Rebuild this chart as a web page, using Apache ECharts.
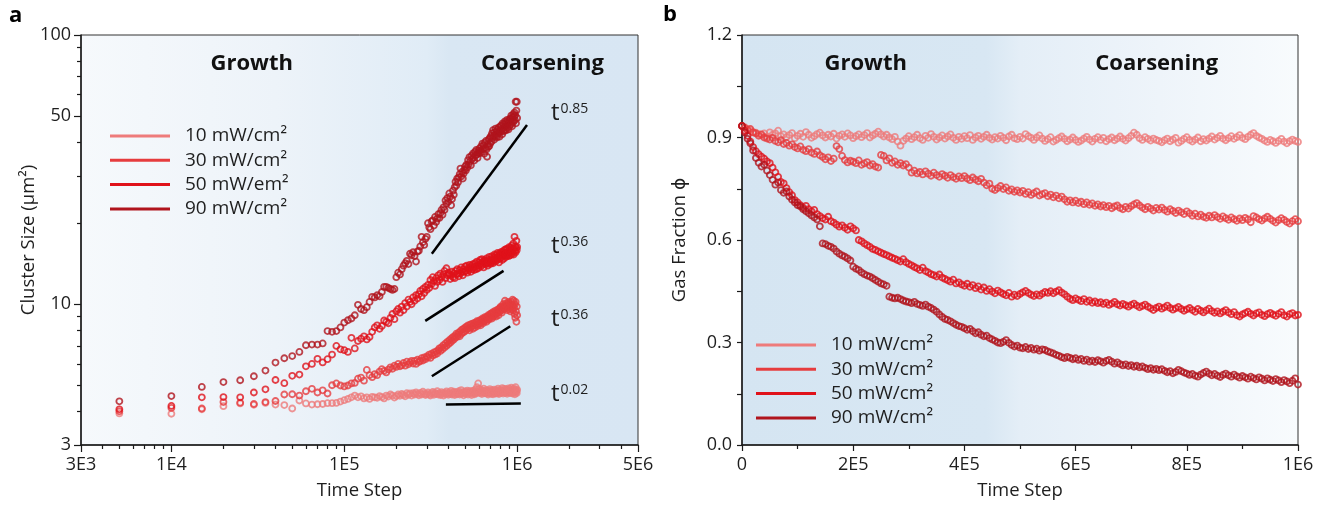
<!DOCTYPE html>
<html>
<head>
<meta charset="utf-8">
<script src="https://cdn.jsdelivr.net/npm/echarts@6/dist/echarts.min.js"></script>
<style>
  html, body { margin: 0; padding: 0; background: #fff; }
  #chart { width: 1327px; height: 505px; }
</style>
</head>
<body>
<div id="chart"></div>
<script>
// ---- sampling ----
const STEP = 5000;                       // time steps between saved frames

// ---- series names & colours ----
const namesA = ['10 mW/cm²', '30 mW/cm²', '50 mW/em²', '90 mW/cm²'];
const namesB = ['10 mW/cm²', '30 mW/cm²', '50 mW/cm²', '90 mW/cm²'];
const colors = ['#ee7b7b', '#e63c3e', '#e0121a', '#b0141d'];

// ---- (a) cluster size, µm², at t = 5E3 ... 1E6 ----
const size10 = [
  3.93, 3.92, 4.07, 4.18, 4.28, 4.23, 4.30, 4.24, 4.22, 4.10, 4.39, 4.28, 4.24, 4.25, 4.26, 4.29,
  4.29, 4.30, 4.35, 4.40,
  4.45, 4.51, 4.58, 4.51, 4.55, 4.47, 4.51, 4.45, 4.53, 4.51,
  4.49, 4.56, 4.52, 4.47, 4.58, 4.54, 4.62, 4.58, 4.50, 4.56,
  4.62, 4.57, 4.64, 4.60, 4.55, 4.67, 4.61, 4.66, 4.58, 4.67,
  4.62, 4.70, 4.64, 4.59, 4.68, 4.62, 4.73, 4.65, 4.60, 4.64,
  4.70, 4.62, 4.58, 4.66, 4.72, 4.61, 4.68, 4.64, 4.75, 4.62,
  4.67, 4.60, 4.71, 4.65, 4.58, 4.69, 4.63, 4.74, 4.66, 4.61,
  4.70, 4.64, 4.77, 4.62, 4.68, 4.73, 4.60, 4.66, 4.71, 4.63,
  4.69, 4.75, 4.62, 4.67, 4.80, 4.65, 4.71, 4.59, 4.68, 4.74,
  4.64, 4.70, 4.78, 4.62, 4.69, 4.75, 4.66, 4.72, 4.60, 4.77,
  4.68, 4.74, 4.63, 4.81, 4.70, 4.66, 4.92, 4.72, 5.08, 4.85,
  4.76, 4.68, 4.82, 4.71, 4.64, 4.78, 4.70, 4.86, 4.73, 4.67,
  4.75, 4.69, 4.80, 4.66, 4.73, 4.62, 4.77, 4.70, 4.84, 4.68,
  4.74, 4.65, 4.79, 4.71, 4.63, 4.76, 4.82, 4.69, 4.74, 4.66,
  4.72, 4.80, 4.67, 4.75, 4.86, 4.70, 4.64, 4.78, 4.73, 4.81,
  4.68, 4.76, 4.71, 4.88, 4.74, 4.66, 4.79, 4.72, 4.85, 4.70,
  4.77, 4.69, 4.83, 4.74, 4.65, 4.80, 4.73, 4.87, 4.70, 4.78,
  4.72, 4.84, 4.68, 4.76, 4.90, 4.71, 4.79, 4.66, 4.82, 4.75,
  4.70, 4.86, 4.74, 4.63, 4.80, 4.92, 4.72, 4.78, 4.68, 4.81
];
const size30 = [
  4.00, 4.12, 4.10, 4.33, 4.31, 4.26, 4.33, 4.37, 4.62, 4.63, 4.58, 4.75, 4.85, 4.70, 4.79, 4.66,
  5.00, 5.08, 4.99, 4.95,
  4.99, 5.08, 5.10, 5.29, 5.34, 5.20, 5.70, 5.45, 5.36, 5.50,
  5.45, 5.62, 5.74, 5.66, 5.58, 5.72, 5.83, 5.76, 5.91, 5.85,
  6.00, 5.88, 5.93, 6.05, 5.91, 6.12, 5.98, 6.08, 6.16, 6.02,
  6.16, 6.00, 6.22, 6.10, 6.16, 6.30, 6.18, 6.35, 6.25, 6.40,
  6.35, 6.50, 6.32, 6.55, 6.45, 6.62, 6.50, 6.68, 6.56, 6.75,
  6.86, 6.70, 6.92, 6.80, 7.05, 6.90, 7.15, 7.00, 7.25, 7.10,
  7.35, 7.20, 7.45, 7.30, 7.55, 7.40, 7.62, 7.50, 7.77, 7.58,
  7.70, 7.85, 7.60, 7.95, 7.75, 8.05, 7.85, 8.10, 7.90, 8.20,
  8.00, 8.25, 8.10, 8.35, 8.15, 8.00, 8.40, 8.20, 8.45, 8.30,
  8.10, 8.50, 8.35, 8.20, 8.55, 8.40, 8.65, 8.30, 8.60, 8.45,
  8.70, 8.50, 8.35, 8.75, 8.60, 8.85, 8.50, 8.80, 8.65, 8.95,
  8.70, 8.90, 8.60, 9.00, 8.80, 9.10, 8.75, 9.05, 8.90, 9.20,
  8.95, 9.25, 8.85, 9.15, 9.35, 9.00, 9.30, 9.10, 9.45, 9.20,
  9.00, 9.40, 9.25, 9.55, 9.30, 9.10, 9.60, 9.35, 9.70, 9.45,
  9.80, 9.50, 9.30, 9.75, 9.60, 10.0, 9.55, 9.85, 9.70, 10.3,
  9.65, 9.90, 10.1, 9.75, 9.50, 10.0, 9.80, 10.2, 9.60, 9.90,
  10.1, 9.70, 9.40, 9.95, 10.2, 9.60, 9.85, 10.4, 9.50, 9.90,
  10.3, 9.70, 9.20, 10.0, 8.90, 10.2, 9.40, 8.60, 9.80, 9.10
];
const size50 = [
  4.07, 4.19, 4.51, 4.52, 4.51, 4.70, 4.83, 5.23, 5.09, 5.42, 5.48, 5.88, 6.00, 6.27, 6.08, 6.25,
  6.50, 7.00, 6.80, 6.75,
  6.65, 7.50, 6.85, 7.30, 7.45, 7.60, 7.40, 7.55, 7.90, 8.20,
  8.35, 8.10, 8.30, 8.70, 8.60, 8.50, 8.90, 9.20, 8.80, 9.40,
  9.60, 9.30, 9.80, 9.50, 10.1, 9.80, 10.4, 10.2, 10.0, 10.6,
  10.3, 10.8, 10.5, 10.9, 11.2, 10.7, 11.4, 11.0, 11.6, 11.3,
  11.8, 11.5, 12.3, 11.9, 12.6, 12.2, 11.7, 12.5, 12.1, 12.8,
  12.3, 13.0, 12.6, 12.1, 12.9, 13.3, 12.5, 13.6, 12.8, 13.1,
  12.9, 12.4, 12.8, 13.2, 12.6, 13.0, 12.5, 13.3, 12.9, 13.5,
  13.0, 12.7, 13.4, 13.0, 13.7, 13.2, 12.8, 13.5, 13.2, 13.8,
  13.3, 13.9, 13.1, 13.6, 13.4, 14.0, 13.7, 13.2, 13.9, 13.5,
  14.1, 13.7, 13.4, 14.2, 13.8, 13.5, 14.4, 13.9, 13.6, 14.3,
  14.0, 14.6, 13.8, 14.2, 14.7, 14.0, 14.4, 13.7, 14.6, 14.2,
  14.5, 14.1, 14.8, 14.3, 13.9, 14.6, 14.2, 15.0, 14.4, 14.1,
  14.7, 14.3, 15.1, 14.5, 14.2, 14.9, 14.6, 15.3, 14.4, 14.8,
  15.2, 14.5, 14.9, 15.5, 14.7, 15.1, 14.3, 15.4, 14.8, 15.2,
  15.6, 14.9, 15.3, 14.6, 15.7, 15.1, 15.5, 14.8, 15.9, 15.2,
  15.4, 16.0, 15.0, 15.6, 15.2, 16.1, 15.3, 15.7, 15.1, 16.3,
  15.5, 15.9, 15.2, 16.2, 15.6, 16.5, 15.4, 16.0, 15.7, 16.8,
  15.3, 16.1, 17.8, 15.8, 16.4, 15.6, 16.2, 17.2, 15.9, 16.3
];
const size90 = [
  4.36, 4.56, 4.93, 5.14, 5.22, 5.40, 5.67, 6.07, 6.30, 6.42, 6.65, 7.04, 7.08, 7.08, 7.15, 7.95,
  7.90, 7.95, 8.20, 8.55,
  8.72, 8.85, 9.10, 9.95, 9.60, 9.50, 9.75, 10.2, 10.65, 10.6,
  10.8, 10.7, 11.1, 11.6, 11.6, 11.5, 11.4, 11.3, 11.4, 12.6,
  13.1, 12.9, 13.5, 13.9, 14.2, 14.5, 14.1, 15.4, 15.2, 15.6,
  15.1, 14.4, 15.7, 15.8, 16.4, 17.8, 17.0, 16.6, 17.5, 17.8,
  20.0, 19.3, 19.0, 20.3, 20.5, 19.6, 21.1, 20.2, 20.8, 21.6,
  20.9, 21.8, 22.4, 21.5, 22.9, 22.4, 24.3, 23.6, 24.8, 24.0,
  25.8, 25.1, 23.3, 24.6, 26.4, 25.5, 27.2, 28.5, 27.6, 29.3,
  28.4, 29.6, 30.4, 31.9, 29.8, 31.0, 29.3, 30.6, 31.6, 32.5,
  31.4, 33.0, 32.2, 34.3, 33.1, 35.2, 34.0, 32.8, 35.6, 34.6,
  36.3, 35.1, 34.2, 36.8, 35.7, 37.4, 36.0, 34.9, 36.5, 37.2,
  37.9, 36.4, 37.3, 38.6, 36.8, 39.5, 37.7, 38.9, 36.2, 39.8,
  38.1, 40.4, 37.6, 35.3, 39.2, 38.4, 40.9, 38.7, 41.5, 39.6,
  42.1, 40.2, 43.1, 41.4, 44.3, 42.0, 40.8, 43.6, 42.5, 44.9,
  42.0, 43.8, 41.6, 44.5, 42.9, 45.3, 43.4, 41.9, 44.1, 45.8,
  43.7, 46.2, 44.6, 42.8, 47.0, 45.1, 43.9, 46.6, 44.3, 47.8,
  45.9, 44.2, 47.3, 46.0, 48.4, 45.2, 46.9, 44.6, 48.1, 45.7,
  47.5, 49.0, 46.3, 48.6, 50.2, 47.1, 45.8, 49.4, 48.0, 50.8,
  47.6, 49.7, 51.5, 48.3, 50.3, 56.5, 47.0, 52.4, 56.5, 49.2
];

// power-law guide lines in (a): end points [t0, t1], [s0, s1], exponent label
const fitT = [[3.21e5, 1.14e6], [2.94e5, 8.34e5], [3.21e5, 9.12e5], [3.87e5, 1.05e6]];
const fitS = [[15.4, 46.3], [8.67, 13.3], [5.40, 8.28], [4.24, 4.28]];
const fitExp = ['0.85', '0.36', '0.36', '0.02'];

// ---- (b) gas fraction at t = 0 ... 1E6 ----
const gas10 = [
  0.934, 0.930, 0.925, 0.921, 0.916, 0.914, 0.910, 0.906, 0.912, 0.903,
  0.915, 0.908, 0.912, 0.920, 0.904, 0.909, 0.901, 0.907, 0.913, 0.898,
  0.905, 0.911, 0.902, 0.916, 0.908, 0.899, 0.904, 0.910, 0.914, 0.906,
  0.900, 0.908, 0.903, 0.911, 0.897, 0.905, 0.909, 0.902, 0.912, 0.906,
  0.898, 0.904, 0.909, 0.901, 0.907, 0.913, 0.900, 0.906, 0.911, 0.917,
  0.909, 0.903, 0.908, 0.900, 0.895, 0.902, 0.888, 0.876, 0.890, 0.897,
  0.904, 0.895, 0.901, 0.908, 0.898, 0.893, 0.905, 0.899, 0.910, 0.902,
  0.894, 0.900, 0.906, 0.897, 0.903, 0.909, 0.899, 0.893, 0.902, 0.896,
  0.904, 0.898, 0.907, 0.893, 0.900, 0.905, 0.896, 0.902, 0.908, 0.899,
  0.894, 0.901, 0.897, 0.905, 0.899, 0.892, 0.903, 0.908, 0.898, 0.895,
  0.902, 0.897, 0.910, 0.904, 0.899, 0.893, 0.900, 0.906, 0.897, 0.890,
  0.895, 0.901, 0.888, 0.893, 0.898, 0.903, 0.896, 0.889, 0.894, 0.900,
  0.893, 0.887, 0.891, 0.897, 0.902, 0.894, 0.888, 0.896, 0.901, 0.893,
  0.899, 0.889, 0.895, 0.900, 0.892, 0.897, 0.903, 0.896, 0.891, 0.898,
  0.905, 0.914, 0.908, 0.898, 0.893, 0.901, 0.896, 0.891, 0.897, 0.893,
  0.890, 0.886, 0.892, 0.897, 0.889, 0.894, 0.899, 0.885, 0.890, 0.896,
  0.901, 0.893, 0.888, 0.894, 0.900, 0.889, 0.895, 0.891, 0.897, 0.903,
  0.894, 0.899, 0.905, 0.897, 0.892, 0.898, 0.904, 0.896, 0.901, 0.907,
  0.899, 0.895, 0.902, 0.908, 0.913, 0.905, 0.900, 0.896, 0.891, 0.887,
  0.893, 0.889, 0.884, 0.890, 0.896, 0.888, 0.883, 0.889, 0.894, 0.890,
  0.887
];
const gas30 = [
  0.934, 0.928, 0.922, 0.925, 0.915, 0.912, 0.905, 0.909, 0.900, 0.897,
  0.894, 0.899, 0.890, 0.886, 0.892, 0.881, 0.884, 0.876, 0.880, 0.872,
  0.868, 0.874, 0.864, 0.860, 0.866, 0.856, 0.852, 0.859, 0.848, 0.843,
  0.836, 0.842, 0.831, 0.838, 0.875, 0.866, 0.846, 0.834, 0.827, 0.832,
  0.829, 0.825, 0.833, 0.820, 0.824, 0.828, 0.818, 0.822, 0.815, 0.812,
  0.849, 0.846, 0.833, 0.839, 0.826, 0.830, 0.820, 0.825, 0.818, 0.822,
  0.812, 0.797, 0.803, 0.795, 0.799, 0.792, 0.801, 0.794, 0.788, 0.797,
  0.790, 0.785, 0.793, 0.788, 0.782, 0.790, 0.784, 0.779, 0.786, 0.781,
  0.787, 0.780, 0.775, 0.783, 0.777, 0.772, 0.779, 0.768, 0.760, 0.765,
  0.750, 0.746, 0.752, 0.758, 0.749, 0.754, 0.744, 0.748, 0.741, 0.745,
  0.739, 0.744, 0.735, 0.740, 0.732, 0.737, 0.742, 0.730, 0.734, 0.737,
  0.728, 0.733, 0.725, 0.730, 0.722, 0.727, 0.719, 0.712, 0.716, 0.710,
  0.715, 0.708, 0.712, 0.705, 0.710, 0.703, 0.707, 0.700, 0.704, 0.698,
  0.702, 0.696, 0.700, 0.693, 0.698, 0.701, 0.694, 0.690, 0.697, 0.692,
  0.699, 0.704, 0.708, 0.701, 0.695, 0.690, 0.697, 0.692, 0.686, 0.694,
  0.689, 0.695, 0.688, 0.683, 0.690, 0.685, 0.679, 0.686, 0.681, 0.676,
  0.684, 0.678, 0.671, 0.677, 0.669, 0.674, 0.668, 0.665, 0.671, 0.666,
  0.673, 0.667, 0.662, 0.669, 0.664, 0.659, 0.666, 0.661, 0.656, 0.663,
  0.658, 0.665, 0.660, 0.652, 0.670, 0.666, 0.661, 0.657, 0.663, 0.668,
  0.662, 0.656, 0.651, 0.658, 0.664, 0.659, 0.653, 0.648, 0.655, 0.661,
  0.655
];
const gas50 = [
  0.934, 0.920, 0.905, 0.888, 0.872, 0.860, 0.851, 0.844, 0.838, 0.830,
  0.825, 0.812, 0.798, 0.785, 0.770, 0.766, 0.752, 0.740, 0.731, 0.717,
  0.710, 0.702, 0.695, 0.700, 0.690, 0.684, 0.688, 0.676, 0.670, 0.664,
  0.660, 0.668, 0.655, 0.651, 0.645, 0.639, 0.643, 0.636, 0.630, 0.640,
  0.634, 0.628, 0.600, 0.596, 0.590, 0.585, 0.580, 0.574, 0.571, 0.567,
  0.563, 0.559, 0.556, 0.552, 0.548, 0.545, 0.541, 0.537, 0.544, 0.535,
  0.530, 0.526, 0.521, 0.517, 0.512, 0.519, 0.509, 0.505, 0.500, 0.497,
  0.493, 0.499, 0.490, 0.486, 0.482, 0.478, 0.484, 0.473, 0.476, 0.470,
  0.466, 0.472, 0.463, 0.468, 0.459, 0.464, 0.455, 0.461, 0.451, 0.456,
  0.449, 0.444, 0.452, 0.447, 0.442, 0.438, 0.445, 0.434, 0.440, 0.436,
  0.442, 0.447, 0.451, 0.445, 0.440, 0.436, 0.441, 0.437, 0.443, 0.448,
  0.445, 0.450, 0.444, 0.449, 0.453, 0.446, 0.441, 0.434, 0.428, 0.424,
  0.429, 0.425, 0.421, 0.427, 0.419, 0.423, 0.416, 0.420, 0.415, 0.418,
  0.413, 0.417, 0.410, 0.414, 0.419, 0.412, 0.408, 0.413, 0.409, 0.405,
  0.410, 0.414, 0.408, 0.403, 0.407, 0.411, 0.405, 0.400, 0.395, 0.401,
  0.405, 0.399, 0.403, 0.408, 0.401, 0.396, 0.400, 0.404, 0.398, 0.393,
  0.397, 0.401, 0.395, 0.390, 0.398, 0.393, 0.388, 0.394, 0.399, 0.392,
  0.387, 0.391, 0.385, 0.390, 0.395, 0.388, 0.383, 0.389, 0.380, 0.376,
  0.382, 0.386, 0.390, 0.384, 0.379, 0.385, 0.388, 0.381, 0.377, 0.383,
  0.387, 0.382, 0.378, 0.384, 0.389, 0.380, 0.376, 0.383, 0.386, 0.379,
  0.381
];
const gas90 = [
  0.934, 0.915, 0.896, 0.883, 0.862, 0.840, 0.826, 0.815, 0.820, 0.803,
  0.790, 0.776, 0.762, 0.768, 0.746, 0.738, 0.742, 0.727, 0.718, 0.710,
  0.702, 0.698, 0.690, 0.684, 0.678, 0.672, 0.666, 0.660, 0.640, 0.590,
  0.588, 0.583, 0.580, 0.575, 0.566, 0.560, 0.555, 0.551, 0.546, 0.540,
  0.522, 0.516, 0.512, 0.505, 0.500, 0.496, 0.493, 0.488, 0.483, 0.478,
  0.473, 0.470, 0.466, 0.434, 0.431, 0.429, 0.431, 0.427, 0.423, 0.420,
  0.418, 0.415, 0.419, 0.413, 0.410, 0.407, 0.411, 0.405, 0.401, 0.396,
  0.390, 0.382, 0.375, 0.369, 0.366, 0.362, 0.357, 0.352, 0.348, 0.346,
  0.342, 0.337, 0.340, 0.333, 0.327, 0.330, 0.323, 0.318, 0.320, 0.313,
  0.309, 0.305, 0.300, 0.298, 0.302, 0.307, 0.299, 0.293, 0.288, 0.291,
  0.285, 0.283, 0.287, 0.281, 0.284, 0.279, 0.282, 0.276, 0.280, 0.278,
  0.274, 0.271, 0.268, 0.264, 0.261, 0.257, 0.254, 0.258, 0.255, 0.251,
  0.254, 0.249, 0.252, 0.246, 0.250, 0.244, 0.247, 0.243, 0.248, 0.245,
  0.241, 0.246, 0.249, 0.244, 0.238, 0.242, 0.237, 0.233, 0.236, 0.231,
  0.234, 0.229, 0.232, 0.227, 0.230, 0.226, 0.222, 0.225, 0.220, 0.223,
  0.219, 0.222, 0.217, 0.213, 0.216, 0.210, 0.214, 0.220, 0.216, 0.212,
  0.209, 0.205, 0.208, 0.203, 0.200, 0.206, 0.211, 0.215, 0.209, 0.204,
  0.208, 0.203, 0.199, 0.205, 0.209, 0.204, 0.200, 0.206, 0.201, 0.197,
  0.202, 0.198, 0.194, 0.200, 0.196, 0.192, 0.198, 0.194, 0.189, 0.195,
  0.191, 0.187, 0.193, 0.189, 0.184, 0.190, 0.186, 0.181, 0.188, 0.195,
  0.177
];

// ---- axis tick labels ----
const xTicksA = [3e3, 1e4, 1e5, 1e6, 5e6];
const xLabelsA = ['3E3', '1E4', '1E5', '1E6', '5E6'];
const xMinorA = [4e3, 5e3, 6e3, 7e3, 8e3, 9e3, 2e4, 3e4, 4e4, 5e4, 6e4, 7e4, 8e4, 9e4,
                 2e5, 3e5, 4e5, 5e5, 6e5, 7e5, 8e5, 9e5, 2e6, 3e6, 4e6];
const yTicksA = [3, 10, 50, 100];
const yLabelsA = ['3', '10', '50', '100'];
const yMinorA = [4, 5, 6, 7, 8, 9, 20, 30, 40, 60, 70, 80, 90];

const FONT = '"Open Sans", "DejaVu Sans", sans-serif';
const INK = '#1e1e1e';

const sizeA = [size10, size30, size50, size90];
const gasB = [gas10, gas30, gas50, gas90];
const timesA = size10.map((_, i) => (i + 1) * STEP);
const timesB = gas10.map((_, i) => i * STEP);

const chart = echarts.init(document.getElementById('chart'), null, { renderer: 'canvas' });

function labelFrom(values, labels) {
  return v => {
    for (let i = 0; i < values.length; i++) {
      if (Math.abs(Math.log10(values[i]) - v) < 1e-6) return labels[i];
    }
    return '';
  };
}

const lg = v => Math.log10(v);
const axisLineStyle = { color: '#1a1a1a', width: 1.5 };
const tickLineStyle = { color: '#1a1a1a', width: 1.2 };
const tickLabelStyle = { color: INK, fontSize: 18, fontFamily: FONT };
const nameStyle = { color: INK, fontSize: 18.5, fontFamily: FONT };

const gridA = { left: 81, top: 35, width: 557, height: 410 };
const gridB = { left: 742, top: 35, width: 556, height: 410 };

const MARK = { symbol: 'circle', symbolSize: 6, silent: true };

const series = [];
namesA.forEach((name, i) => {
  series.push(Object.assign({
    type: 'scatter', name, xAxisIndex: 0, yAxisIndex: 0,
    data: timesA.map((t, j) => [t, sizeA[i][j]]),
    itemStyle: { color: 'rgba(0,0,0,0)', borderColor: colors[i], borderWidth: 1.8 },
    z: 3 + i
  }, MARK));
});
fitT.forEach((tt, i) => {
  series.push({
    type: 'line', name: 'fit' + i, xAxisIndex: 0, yAxisIndex: 0,
    data: [[tt[0], fitS[i][0]], [tt[1], fitS[i][1]]],
    symbol: 'none', silent: true,
    lineStyle: { color: '#000', width: 2.5 }, z: 10
  });
});
namesB.forEach((name, i) => {
  series.push(Object.assign({
    type: 'scatter', name, xAxisIndex: 3, yAxisIndex: 3,
    data: timesB.map((t, j) => [t, gasB[i][j]]),
    itemStyle: { color: 'rgba(0,0,0,0)', borderColor: colors[i], borderWidth: 1.8 },
    z: 3 + i
  }, MARK));
});

const legendCommon = {
  orient: 'vertical', icon: 'rect', itemWidth: 60, itemHeight: 3, itemGap: 2.3,
  padding: 0, selectedMode: false,
  textStyle: { color: INK, fontSize: 19, lineHeight: 22, fontFamily: FONT, padding: [0, 0, 0, 10] }
};

// exponent annotations next to the guide lines
const expY = [115, 248, 321, 396];
const expText = fitExp.map((e, i) => ({
  type: 'text', left: 551, top: expY[i] - 14,
  style: {
    text: '{t|t}{s|' + e + '}',
    rich: {
      t: { fontSize: 24, fontFamily: FONT, fill: INK, lineHeight: 28 },
      s: { fontSize: 14, fontFamily: FONT, fill: INK, verticalAlign: 'top', padding: [3, 0, 0, 1] }
    }
  }
}));

function phaseText(text, cx) {
  return {
    type: 'text', x: cx, y: 63.5,
    style: { text, fontSize: 22, fontWeight: 'bold', fontFamily: FONT, fill: '#111', align: 'center', verticalAlign: 'middle' }
  };
}

const option = {
  animation: false,
  backgroundColor: '#fff',
  grid: [
    Object.assign({
      show: true, borderColor: '#333', borderWidth: 1,
      backgroundColor: new echarts.graphic.LinearGradient(0, 0, 1, 0, [
        { offset: 0, color: '#f6f9fc' },
        { offset: 0.35, color: '#edf3f9' },
        { offset: 0.62, color: '#e0ecf6' },
        { offset: 0.66, color: '#d9e7f3' },
        { offset: 1, color: '#d8e6f3' }
      ])
    }, gridA),
    Object.assign({
      show: true, borderColor: '#333', borderWidth: 1,
      backgroundColor: new echarts.graphic.LinearGradient(0, 0, 1, 0, [
        { offset: 0, color: '#d5e5f2' },
        { offset: 0.44, color: '#d8e7f3' },
        { offset: 0.5, color: '#e4eef7' },
        { offset: 0.75, color: '#eef4fa' },
        { offset: 1, color: '#f8fbfd' }
      ])
    }, gridB)
  ],
  xAxis: [
    // (a) log time axis carrying the data
    {
      type: 'log', logBase: 10, gridIndex: 0, position: 'bottom', min: 3e3, max: 5e6,
      axisLine: { lineStyle: axisLineStyle }, axisTick: { show: false },
      axisLabel: { show: false }, splitLine: { show: false },
      name: 'Time Step', nameLocation: 'middle', nameGap: 36, nameTextStyle: nameStyle
    },
    // (a) decade ticks and labels
    {
      type: 'value', gridIndex: 0, position: 'bottom', offset: 0, min: lg(3e3), max: lg(5e6),
      axisLine: { show: false }, splitLine: { show: false },
      axisTick: { show: true, length: 7, customValues: xTicksA.map(lg), lineStyle: tickLineStyle },
      axisLabel: Object.assign({ customValues: xTicksA.map(lg), margin: 11, formatter: labelFrom(xTicksA, xLabelsA) }, tickLabelStyle)
    },
    // (a) minor ticks
    {
      type: 'value', gridIndex: 0, position: 'bottom', offset: 0, min: lg(3e3), max: lg(5e6),
      axisLine: { show: false }, splitLine: { show: false }, axisLabel: { show: false },
      axisTick: { show: true, length: 4, customValues: xMinorA.map(lg), lineStyle: tickLineStyle }
    },
    // (b) linear time axis
    {
      type: 'value', gridIndex: 1, position: 'bottom', min: 0, max: 1e6, interval: 2e5,
      axisLine: { lineStyle: axisLineStyle },
      axisTick: { length: 6, lineStyle: tickLineStyle },
      minorTick: { show: true, splitNumber: 2, length: 4, lineStyle: tickLineStyle },
      splitLine: { show: false },
      axisLabel: Object.assign({ margin: 11, formatter: v => v === 0 ? '0' : (v >= 1e6 ? (v / 1e6) + 'E6' : (v / 1e5) + 'E5') }, tickLabelStyle),
      name: 'Time Step', nameLocation: 'middle', nameGap: 36, nameTextStyle: nameStyle
    }
  ],
  yAxis: [
    {
      type: 'log', logBase: 10, gridIndex: 0, position: 'left', min: 3, max: 100,
      axisLine: { lineStyle: axisLineStyle }, axisTick: { show: false },
      axisLabel: { show: false }, splitLine: { show: false },
      name: 'Cluster Size (μm²)', nameLocation: 'middle', nameGap: 43, nameRotate: 90,
      nameTextStyle: nameStyle
    },
    {
      type: 'value', gridIndex: 0, position: 'left', offset: 0, min: lg(3), max: 2,
      axisLine: { show: false }, splitLine: { show: false },
      axisTick: { show: true, length: 7, customValues: yTicksA.map(lg), lineStyle: tickLineStyle },
      axisLabel: Object.assign({ customValues: yTicksA.map(lg), margin: 10, formatter: labelFrom(yTicksA, yLabelsA) }, tickLabelStyle)
    },
    {
      type: 'value', gridIndex: 0, position: 'left', offset: 0, min: lg(3), max: 2,
      axisLine: { show: false }, splitLine: { show: false }, axisLabel: { show: false },
      axisTick: { show: true, length: 4, customValues: yMinorA.map(lg), lineStyle: tickLineStyle }
    },
    {
      type: 'value', gridIndex: 1, position: 'left', min: 0, max: 1.2, interval: 0.3,
      axisLine: { lineStyle: axisLineStyle },
      axisTick: { length: 5, lineStyle: tickLineStyle },
      minorTick: { show: true, splitNumber: 2, length: 5, lineStyle: tickLineStyle },
      splitLine: { show: false },
      axisLabel: Object.assign({ margin: 10, formatter: v => v.toFixed(1) }, tickLabelStyle),
      name: 'Gas Fraction ϕ', nameLocation: 'middle', nameGap: 53, nameRotate: 90,
      nameTextStyle: nameStyle
    }
  ],
  legend: [
    Object.assign({ left: 110, top: 125, data: namesA.map((n, i) => ({ name: n, itemStyle: { color: colors[i], borderWidth: 0, opacity: 1 } })) }, legendCommon),
    Object.assign({ left: 756, top: 334, data: namesB.map((n, i) => ({ name: n, itemStyle: { color: colors[i], borderWidth: 0, opacity: 1 } })) }, legendCommon)
  ],
  graphic: [
    { type: 'text', left: 9, top: 5, style: { text: 'a', fontSize: 22, fontWeight: 'bold', fontFamily: FONT, fill: '#000' } },
    { type: 'text', left: 663, top: 4, style: { text: 'b', fontSize: 22, fontWeight: 'bold', fontFamily: FONT, fill: '#000' } },
    phaseText('Growth', 251.7),
    phaseText('Coarsening', 542.5),
    phaseText('Growth', 865.7),
    phaseText('Coarsening', 1156.7)
  ].concat(expText),
  series
};

chart.setOption(option);
</script>
</body>
</html>
